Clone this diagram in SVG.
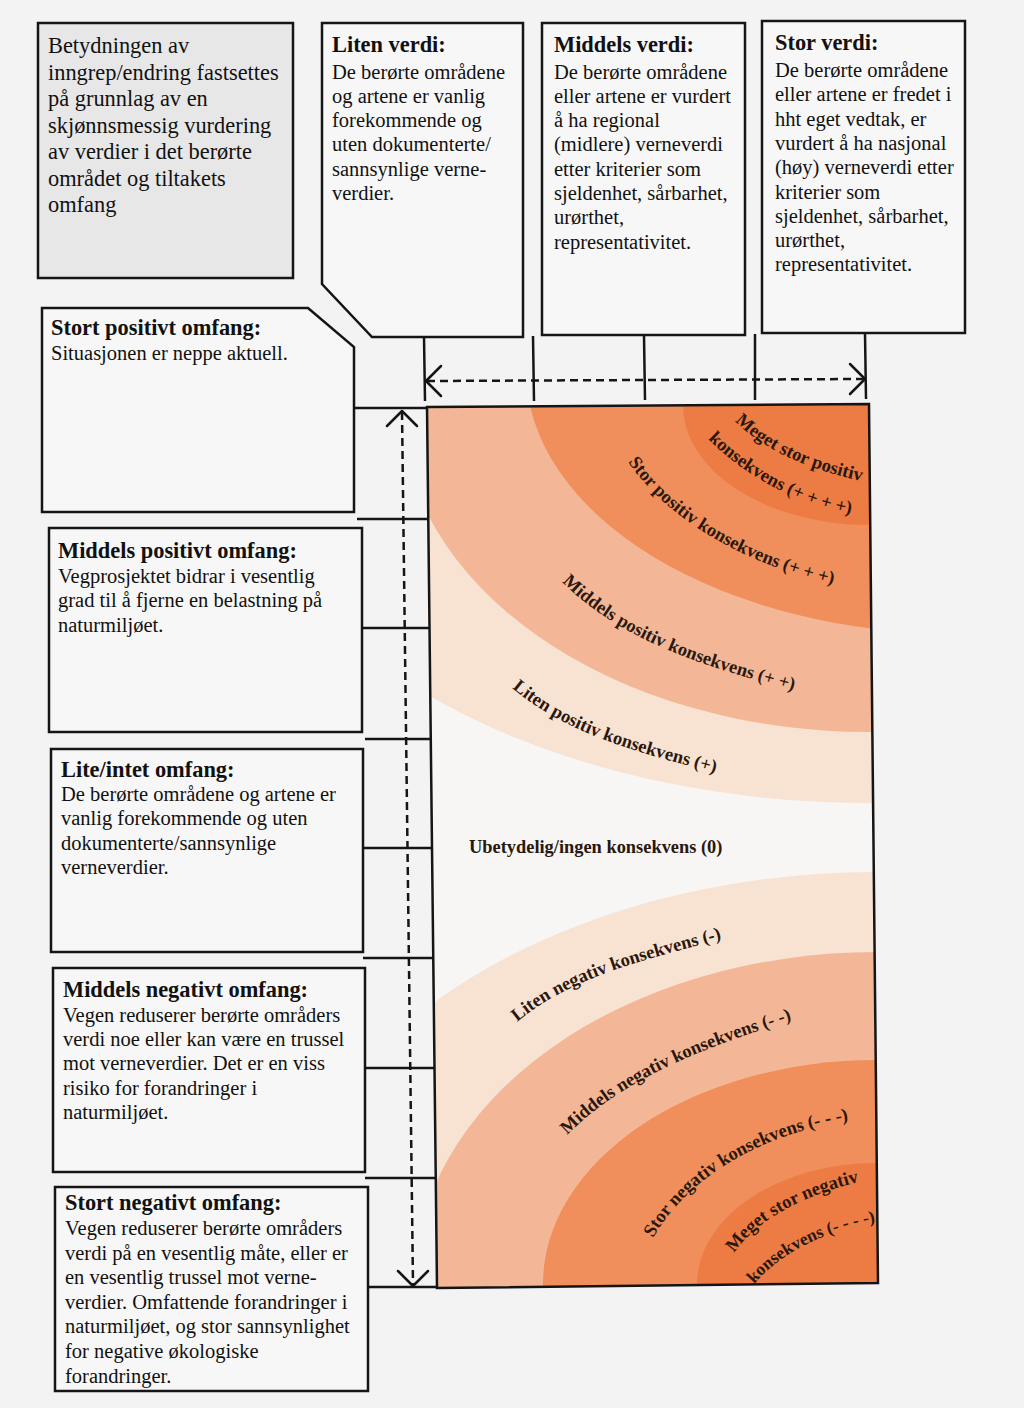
<svg xmlns="http://www.w3.org/2000/svg" width="1024" height="1408" viewBox="0 0 1024 1408">
<style>
.box{fill:#f7f7f7;stroke:#151515;stroke-width:2.5}
.hd{font-family:"Liberation Serif","Times New Roman",serif;font-weight:bold;font-size:22.4px;fill:#111}
.bd{font-family:"Liberation Serif","Times New Roman",serif;font-size:20.5px;fill:#111}
.bg{font-family:"Liberation Serif","Times New Roman",serif;font-size:22.4px;fill:#111}
.ct{font-family:"Liberation Serif","Times New Roman",serif;font-weight:bold;font-size:18.5px;fill:#2a170e}
.ln{stroke:#151515;stroke-width:2.5;fill:none}
.dash{stroke:#151515;stroke-width:2.5;stroke-dasharray:8 5;fill:none}
.ah{stroke:#151515;stroke-width:2.5;fill:none;stroke-linecap:round;stroke-linejoin:round}
.c1{fill:#f8e2d2}.c2{fill:#f3b797}.c3{fill:#f08f5b}.c4{fill:#ed7b44}
</style>
<defs>
<clipPath id="chartClip"><polygon points="427,407 869,404 878,1283 437,1288"/></clipPath>
<path id="p1" d="M735,421 C769,455 819,472 866,482 l40,9"/>
<path id="p2" d="M708,439 C746,477 799,505 852,514 l40,7"/>
<path id="p3" d="M628,462 C674,528 759,568 837,585 l40,8"/>
<path id="p4" d="M562,582 C622,642 710,668 792,690 l40,10"/>
<path id="p5" d="M512,688 C569,736 645,754 716,773 l40,10"/>
<path id="n1" d="M517,1022 C572,976 648,959 718,940 l40,-10"/>
<path id="n2" d="M567,1135 C625,1077 707,1047 785,1022 l40,-12"/>
<path id="n3" d="M653,1238 C690,1173 766,1135 840,1122 l40,-7"/>
<path id="n4" d="M734,1253 C761,1215 809,1195 854,1183 l40,-10"/>
<path id="n5" d="M754,1284 C784,1249 831,1230 876,1222 l40,-7"/>
</defs>
<rect x="0" y="0" width="1024" height="1408" fill="#f3f3f3"/>

<g id="chart">
<g clip-path="url(#chartClip)">
<polygon points="427,407 869,404 878,1283 437,1288" fill="#f7f6f5"/>
<ellipse class="c1" cx="869" cy="405" rx="644" ry="398"/>
<ellipse class="c2" cx="869" cy="405" rx="468" ry="327"/>
<ellipse class="c3" cx="960" cy="370" rx="434" ry="264"/>
<ellipse class="c4" cx="869" cy="405" rx="186" ry="120"/>
<ellipse class="c1" cx="877" cy="1284" rx="607" ry="412"/>
<ellipse class="c2" cx="877" cy="1284" rx="463" ry="332"/>
<ellipse class="c3" cx="877" cy="1284" rx="334" ry="224"/>
<ellipse class="c4" cx="877" cy="1284" rx="180" ry="121"/>
</g>
<polygon points="427,407 869,404 878,1283 437,1288" fill="none" stroke="#151515" stroke-width="2.5"/>
<text class="ct"><textPath href="#p1">Meget stor positiv</textPath></text>
<text class="ct"><textPath href="#p2">konsekvens (+ + + +)</textPath></text>
<text class="ct"><textPath href="#p3">Stor positiv konsekvens (+ + +)</textPath></text>
<text class="ct"><textPath href="#p4">Middels positiv konsekvens (+ +)</textPath></text>
<text class="ct"><textPath href="#p5">Liten positiv konsekvens (+)</textPath></text>
<text class="ct" x="469" y="853" style="font-size:18.4px">Ubetydelig/ingen konsekvens (0)</text>
<text class="ct"><textPath href="#n1">Liten negativ konsekvens (-)</textPath></text>
<text class="ct"><textPath href="#n2">Middels negativ konsekvens (- -)</textPath></text>
<text class="ct"><textPath href="#n3">Stor negativ konsekvens (- - -)</textPath></text>
<text class="ct"><textPath href="#n4">Meget stor negativ</textPath></text>
<text class="ct" style="font-size:17.6px"><textPath href="#n5">konsekvens (- - - -)</textPath></text>
</g>

<g id="node-betydning">
<rect x="38" y="23" width="255" height="255" fill="#e7e7e7" stroke="#151515" stroke-width="2.5"/>
<text class="bg" x="48" y="53">Betydningen av</text>
<text class="bg" x="48" y="80">inngrep/endring fastsettes</text>
<text class="bg" x="48" y="106">på grunnlag av en</text>
<text class="bg" x="48" y="133">skjønnsmessig vurdering</text>
<text class="bg" x="48" y="159">av verdier i det berørte</text>
<text class="bg" x="48" y="186">området og tiltakets</text>
<text class="bg" x="48" y="212">omfang</text>
</g>

<g id="node-liten-verdi">
<polygon class="box" points="322,23 523,23 523,337 372,337 322,284"/>
<text class="hd" x="332" y="52">Liten verdi:</text>
<text class="bd" x="332" y="78.5">De berørte områdene</text>
<text class="bd" x="332" y="102.8">og artene er vanlig</text>
<text class="bd" x="332" y="127.1">forekommende og</text>
<text class="bd" x="332" y="151.4">uten dokumenterte/</text>
<text class="bd" x="332" y="175.7">sannsynlige verne-</text>
<text class="bd" x="332" y="200">verdier.</text>
</g>

<g id="node-middels-verdi">
<rect class="box" x="542" y="23" width="203" height="312"/>
<text class="hd" x="554" y="52">Middels verdi:</text>
<text class="bd" x="554" y="78.5">De berørte områdene</text>
<text class="bd" x="554" y="102.8">eller artene er vurdert</text>
<text class="bd" x="554" y="127.1">å ha regional</text>
<text class="bd" x="554" y="151.4">(midlere) verneverdi</text>
<text class="bd" x="554" y="175.7">etter kriterier som</text>
<text class="bd" x="554" y="200">sjeldenhet, sårbarhet,</text>
<text class="bd" x="554" y="224.3">urørthet,</text>
<text class="bd" x="554" y="248.6">representativitet.</text>
</g>

<g id="node-stor-verdi">
<rect class="box" x="762" y="21" width="203" height="312"/>
<text class="hd" x="775" y="50">Stor verdi:</text>
<text class="bd" x="775" y="77">De berørte områdene</text>
<text class="bd" x="775" y="101.3">eller artene er fredet i</text>
<text class="bd" x="775" y="125.6">hht eget vedtak, er</text>
<text class="bd" x="775" y="149.9">vurdert å ha nasjonal</text>
<text class="bd" x="775" y="174.2">(høy) verneverdi etter</text>
<text class="bd" x="775" y="198.5">kriterier som</text>
<text class="bd" x="775" y="222.8">sjeldenhet, sårbarhet,</text>
<text class="bd" x="775" y="247.1">urørthet,</text>
<text class="bd" x="775" y="271.4">representativitet.</text>
</g>

<g id="node-stort-positivt">
<polygon class="box" points="42,308 308,308 354,347 354,512 42,512"/>
<text class="hd" x="51" y="335">Stort positivt omfang:</text>
<text class="bd" x="51" y="360">Situasjonen er neppe aktuell.</text>
</g>

<g id="node-middels-positivt">
<rect class="box" x="49" y="528" width="313" height="204"/>
<text class="hd" x="58" y="558">Middels positivt omfang:</text>
<text class="bd" x="58" y="583">Vegprosjektet bidrar i vesentlig</text>
<text class="bd" x="58" y="607.4">grad til å fjerne en belastning på</text>
<text class="bd" x="58" y="631.8">naturmiljøet.</text>
</g>

<g id="node-lite-intet">
<rect class="box" x="51" y="749" width="312" height="203"/>
<text class="hd" x="61" y="777">Lite/intet omfang:</text>
<text class="bd" x="61" y="801">De berørte områdene og artene er</text>
<text class="bd" x="61" y="825.4">vanlig forekommende og uten</text>
<text class="bd" x="61" y="849.8">dokumenterte/sannsynlige</text>
<text class="bd" x="61" y="874.2">verneverdier.</text>
</g>

<g id="node-middels-negativt">
<rect class="box" x="53" y="968" width="312" height="204"/>
<text class="hd" x="63" y="997">Middels negativt omfang:</text>
<text class="bd" x="63" y="1021.5">Vegen reduserer berørte områders</text>
<text class="bd" x="63" y="1045.9">verdi noe eller kan være en trussel</text>
<text class="bd" x="63" y="1070.3">mot verneverdier. Det er en viss</text>
<text class="bd" x="63" y="1094.7">risiko for forandringer i</text>
<text class="bd" x="63" y="1119.1">naturmiljøet.</text>
</g>

<g id="node-stort-negativt">
<rect class="box" x="55" y="1187" width="313" height="204"/>
<text class="hd" x="65" y="1210">Stort negativt omfang:</text>
<text class="bd" x="65" y="1235">Vegen reduserer berørte områders</text>
<text class="bd" x="65" y="1259.6">verdi på en vesentlig måte, eller er</text>
<text class="bd" x="65" y="1284.2">en vesentlig trussel mot verne-</text>
<text class="bd" x="65" y="1308.8">verdier. Omfattende forandringer i</text>
<text class="bd" x="65" y="1333.4">naturmiljøet, og stor sannsynlighet</text>
<text class="bd" x="65" y="1358">for negative økologiske</text>
<text class="bd" x="65" y="1382.6">forandringer.</text>
</g>

<g id="connectors">
<line class="ln" x1="424" y1="337" x2="425" y2="401"/>
<line class="ln" x1="533" y1="336" x2="534" y2="401"/>
<line class="ln" x1="644" y1="335" x2="645" y2="400"/>
<line class="ln" x1="755" y1="334" x2="755" y2="400"/>
<line class="ln" x1="865" y1="333" x2="866" y2="399"/>
<line class="dash" x1="427" y1="381" x2="864" y2="379"/>
<polyline class="ah" points="441,366 426,381 441,396"/>
<polyline class="ah" points="850,364 865,379 850,394"/>
<line class="ln" x1="354" y1="408" x2="427" y2="408"/>
<line class="ln" x1="357" y1="519" x2="428" y2="519"/>
<line class="ln" x1="362" y1="628" x2="429" y2="628"/>
<line class="ln" x1="365" y1="739" x2="431" y2="739"/>
<line class="ln" x1="363" y1="848" x2="432" y2="848"/>
<line class="ln" x1="363" y1="958" x2="433" y2="958"/>
<line class="ln" x1="365" y1="1068" x2="434" y2="1068"/>
<line class="ln" x1="365" y1="1178" x2="436" y2="1178"/>
<line class="ln" x1="368" y1="1287" x2="437" y2="1287"/>
<line class="dash" x1="402" y1="412" x2="413" y2="1284"/>
<polyline class="ah" points="387,426 402,411 417,426"/>
<polyline class="ah" points="398,1271 413,1286 428,1271"/>
</g>
</svg>
